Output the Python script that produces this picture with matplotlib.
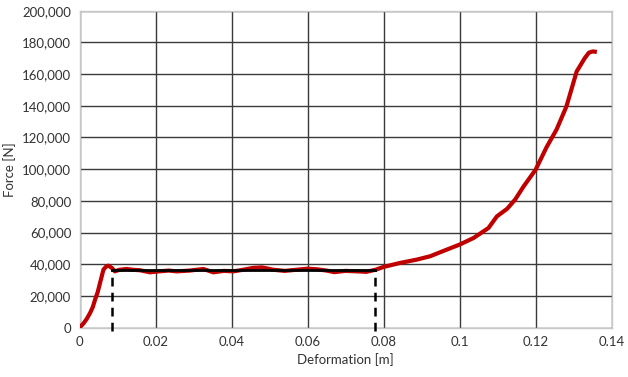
import matplotlib.pyplot as plt
from matplotlib.ticker import FuncFormatter, MultipleLocator

plt.rcParams['font.family'] = ['Lato', 'DejaVu Sans']

deformation = [0.0, 0.0010, 0.0019, 0.0028, 0.0035, 0.0041, 0.0048, 0.0054, 0.0063, 0.0070,
               0.0076, 0.0085, 0.0093, 0.0105, 0.0124, 0.0140, 0.0159, 0.0185, 0.0210,
               0.0235, 0.0256, 0.0290, 0.0326, 0.0352, 0.0380, 0.0405, 0.0430, 0.0457,
               0.0480, 0.0510, 0.0540, 0.0570, 0.0600, 0.0625, 0.0650, 0.0670, 0.0700,
               0.0730, 0.0755, 0.0780, 0.0800, 0.0843, 0.0887, 0.0922, 0.0966, 0.1000,
               0.1037, 0.1076, 0.1098, 0.1125, 0.1146, 0.1168, 0.1200, 0.1229, 0.1255,
               0.1281, 0.1308, 0.1329, 0.1340, 0.1350, 0.1361]
force = [0, 2500, 5500, 9300, 13000, 17700, 22500, 28200, 36600, 38500,
         39100, 37700, 35500, 36500, 37000, 36500, 36200, 34900, 35500,
         36000, 35500, 36000, 37000, 34900, 35800, 35500, 36500, 37700,
         38000, 36500, 35800, 36500, 37200, 36800, 36000, 35000, 35800,
         35500, 35200, 36600, 38300, 40800, 42900, 45000, 49200, 52400,
         56600, 62900, 70200, 75000, 80800, 89000, 99700, 114000, 125000,
         139600, 161700, 170000, 173500, 174300, 174000]

# Idealised plateau (dashed limits, solid level)
plateau_start = 0.0085
plateau_end = 0.0778
plateau_force = 36200

fig, ax = plt.subplots(figsize=(6.28, 3.77), dpi=100)
fig.subplots_adjust(left=0.1266, right=0.974, bottom=0.131, top=0.9716)

ax.plot(deformation, force, color='#c00000', linewidth=3.0, solid_capstyle='butt', zorder=3)

ax.plot([plateau_start, plateau_start], [-2000, plateau_force], color='black',
        linestyle=(0, (3.5, 2.5)), linewidth=1.8, zorder=4, clip_on=False)
ax.plot([plateau_end, plateau_end], [-2000, plateau_force], color='black',
        linestyle=(0, (3.5, 2.5)), linewidth=1.8, zorder=4, clip_on=False)
ax.plot([plateau_start, plateau_end], [plateau_force, plateau_force], color='black',
        linewidth=2.0, zorder=4)

ax.set_xlim(0, 0.14)
ax.set_ylim(0, 200000)
ax.xaxis.set_major_locator(MultipleLocator(0.02))
ax.yaxis.set_major_locator(MultipleLocator(20000))
ax.xaxis.set_major_formatter(FuncFormatter(lambda v, p: '0' if v == 0 else f'{v:g}'))
ax.yaxis.set_major_formatter(FuncFormatter(lambda v, p: f'{int(v):,}'))

ax.grid(True, color='#3a3a3a', linewidth=1.0)
ax.set_axisbelow(True)
for side in ['left', 'bottom', 'top', 'right']:
    ax.spines[side].set_color('#c8c8c8')
    ax.spines[side].set_linewidth(1.0)
ax.tick_params(length=0, labelsize=9.5, colors='#333333', pad=6)

ax.set_xlabel('Deformation [m]', fontsize=9.5, color='#333333')
ax.set_ylabel('Force [N]', fontsize=9.5, color='#333333')

fig.savefig('out.png', dpi=100)
